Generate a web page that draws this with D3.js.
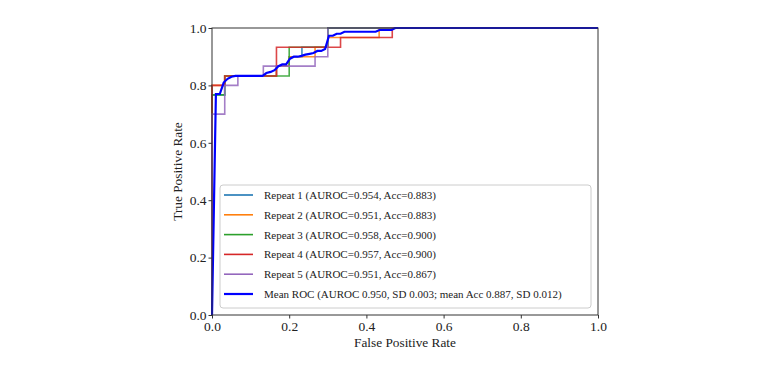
<!DOCTYPE html>
<html>
<head>
<meta charset="utf-8">
<script src="https://cdn.jsdelivr.net/npm/d3@7"></script>
<style>
  html, body { margin: 0; padding: 0; background: #fff; }
  svg { display: block; }
  text { font-family: "Liberation Serif", "Times New Roman", serif; fill: #222; }
</style>
</head>
<body>
<svg id="chart" width="780" height="366"></svg>
<script>
// ---- data ----
const xTicks = [0.0, 0.2, 0.4, 0.6, 0.8, 1.0];
const yTicks = [0.0, 0.2, 0.4, 0.6, 0.8, 1.0];

const repeatNames = [
  "Repeat 1 (AUROC=0.954, Acc=0.883)",
  "Repeat 2 (AUROC=0.951, Acc=0.883)",
  "Repeat 3 (AUROC=0.958, Acc=0.900)",
  "Repeat 4 (AUROC=0.957, Acc=0.900)",
  "Repeat 5 (AUROC=0.951, Acc=0.867)"
];
const meanName = "Mean ROC (AUROC 0.950, SD 0.003; mean Acc 0.887, SD 0.012)";

const repeatColors = ["#1f77b4", "#ff7f0e", "#2ca02c", "#d62728", "#9467bd"];
const meanColor = "#0000ff";

// FPR / TPR pairs (step curves)
const repeat1 = [[0,0],[0,0.767],[0.033,0.767],[0.033,0.833],[0.167,0.833],[0.167,0.867],[0.2,0.867],[0.2,0.9],[0.233,0.9],[0.233,0.933],[0.3,0.933],[0.3,1.0],[1,1]];
const repeat2 = [[0,0],[0,0.8],[0.033,0.8],[0.033,0.833],[0.167,0.833],[0.167,0.867],[0.2,0.867],[0.2,0.9],[0.267,0.9],[0.267,0.933],[0.3,0.933],[0.3,0.967],[0.433,0.967],[0.433,1.0],[1,1]];
const repeat3 = [[0,0],[0,0.767],[0.033,0.767],[0.033,0.833],[0.2,0.833],[0.2,0.933],[0.3,0.933],[0.3,1.0],[1,1]];
const repeat4 = [[0,0],[0,0.8],[0.033,0.8],[0.033,0.833],[0.167,0.833],[0.167,0.933],[0.333,0.933],[0.333,0.967],[0.467,0.967],[0.467,1.0],[1,1]];
const repeat5 = [[0,0],[0,0.7],[0.033,0.7],[0.033,0.8],[0.067,0.8],[0.067,0.833],[0.133,0.833],[0.133,0.867],[0.267,0.867],[0.267,0.9],[0.3,0.9],[0.3,1.0],[1,1]];
const meanRoc = [[0,0],[0.0101,0.77],[0.0202,0.77],[0.0303,0.81],[0.0404,0.823],[0.0505,0.83],[0.0606,0.833],[0.131,0.833],[0.141,0.843],[0.152,0.847],[0.162,0.853],[0.172,0.867],[0.182,0.873],[0.192,0.873],[0.202,0.893],[0.212,0.9],[0.222,0.9],[0.232,0.903],[0.242,0.907],[0.253,0.91],[0.263,0.913],[0.273,0.92],[0.283,0.92],[0.293,0.927],[0.303,0.973],[0.313,0.973],[0.323,0.98],[0.333,0.98],[0.343,0.987],[0.424,0.987],[0.434,0.993],[0.465,0.993],[0.475,1.0],[1,1]];

const repeats = [repeat1, repeat2, repeat3, repeat4, repeat5];

// ---- layout ----
const svg = d3.select("#chart");
const L = 212, R = 598, T = 28, B = 315;
const x = d3.scaleLinear().domain([0, 1]).range([L, R]);
const y = d3.scaleLinear().domain([0, 1]).range([B, T]);

svg.append("defs").append("clipPath").attr("id", "plotclip")
  .append("rect").attr("x", L - 1).attr("y", T - 1).attr("width", R - L + 2).attr("height", B - T + 2);

const line = d3.line().x(d => x(d[0])).y(d => y(d[1]));

const g = svg.append("g").attr("clip-path", "url(#plotclip)");
repeats.forEach((r, i) => {
  g.append("path").datum(r).attr("d", line)
    .attr("fill", "none").attr("stroke", repeatColors[i])
    .attr("stroke-width", 1.6).attr("stroke-opacity", 0.85);
});
g.append("path").datum(meanRoc).attr("d", line)
  .attr("fill", "none").attr("stroke", meanColor).attr("stroke-width", 2.2);

// axes
const xAxis = d3.axisBottom(x).tickValues(xTicks).tickFormat(d3.format(".1f")).tickSizeOuter(0).tickSize(3.5).tickPadding(2.5);
const yAxis = d3.axisLeft(y).tickValues(yTicks).tickFormat(d3.format(".1f")).tickSizeOuter(0).tickSize(3.5).tickPadding(2);

const gx = svg.append("g").attr("transform", `translate(0,${B})`).call(xAxis);
const gy = svg.append("g").attr("transform", `translate(${L},0)`).call(yAxis);
[gx, gy].forEach(a => {
  a.attr("font-family", "Liberation Serif, serif").attr("font-size", 13.5);
  a.select(".domain").remove();
  a.selectAll(".tick line").attr("stroke", "#333");
  a.selectAll(".tick text").attr("fill", "#222");
});

// frame
svg.append("rect").attr("x", L).attr("y", T).attr("width", R - L).attr("height", B - T)
  .attr("fill", "none").attr("stroke", "#333").attr("stroke-width", 1);

// axis titles
svg.append("text").attr("x", (L + R) / 2).attr("y", 347).attr("text-anchor", "middle")
  .style("font-size", "13.3px").text("False Positive Rate");
svg.append("text").attr("transform", `translate(182,${(T + B) / 2}) rotate(-90)`).attr("text-anchor", "middle")
  .style("font-size", "13.3px").text("True Positive Rate");

// legend
const lg = svg.append("g");
lg.append("rect").attr("x", 220).attr("y", 185).attr("width", 371).attr("height", 123)
  .attr("rx", 3).attr("fill", "#fff").attr("fill-opacity", 0.85).attr("stroke", "#cccccc").attr("stroke-width", 1);
const legendItems = repeatNames.map((n, i) => ({ name: n, color: repeatColors[i], w: 1.6 }))
  .concat([{ name: meanName, color: meanColor, w: 2.2 }]);
legendItems.forEach((it, i) => {
  const yy = 195 + i * 19.8;
  lg.append("line").attr("x1", 224).attr("x2", 253).attr("y1", yy).attr("y2", yy)
    .attr("stroke", it.color).attr("stroke-width", it.w);
  lg.append("text").attr("x", 264).attr("y", yy + 4).style("font-size", "11px").text(it.name);
});
</script>
</body>
</html>
